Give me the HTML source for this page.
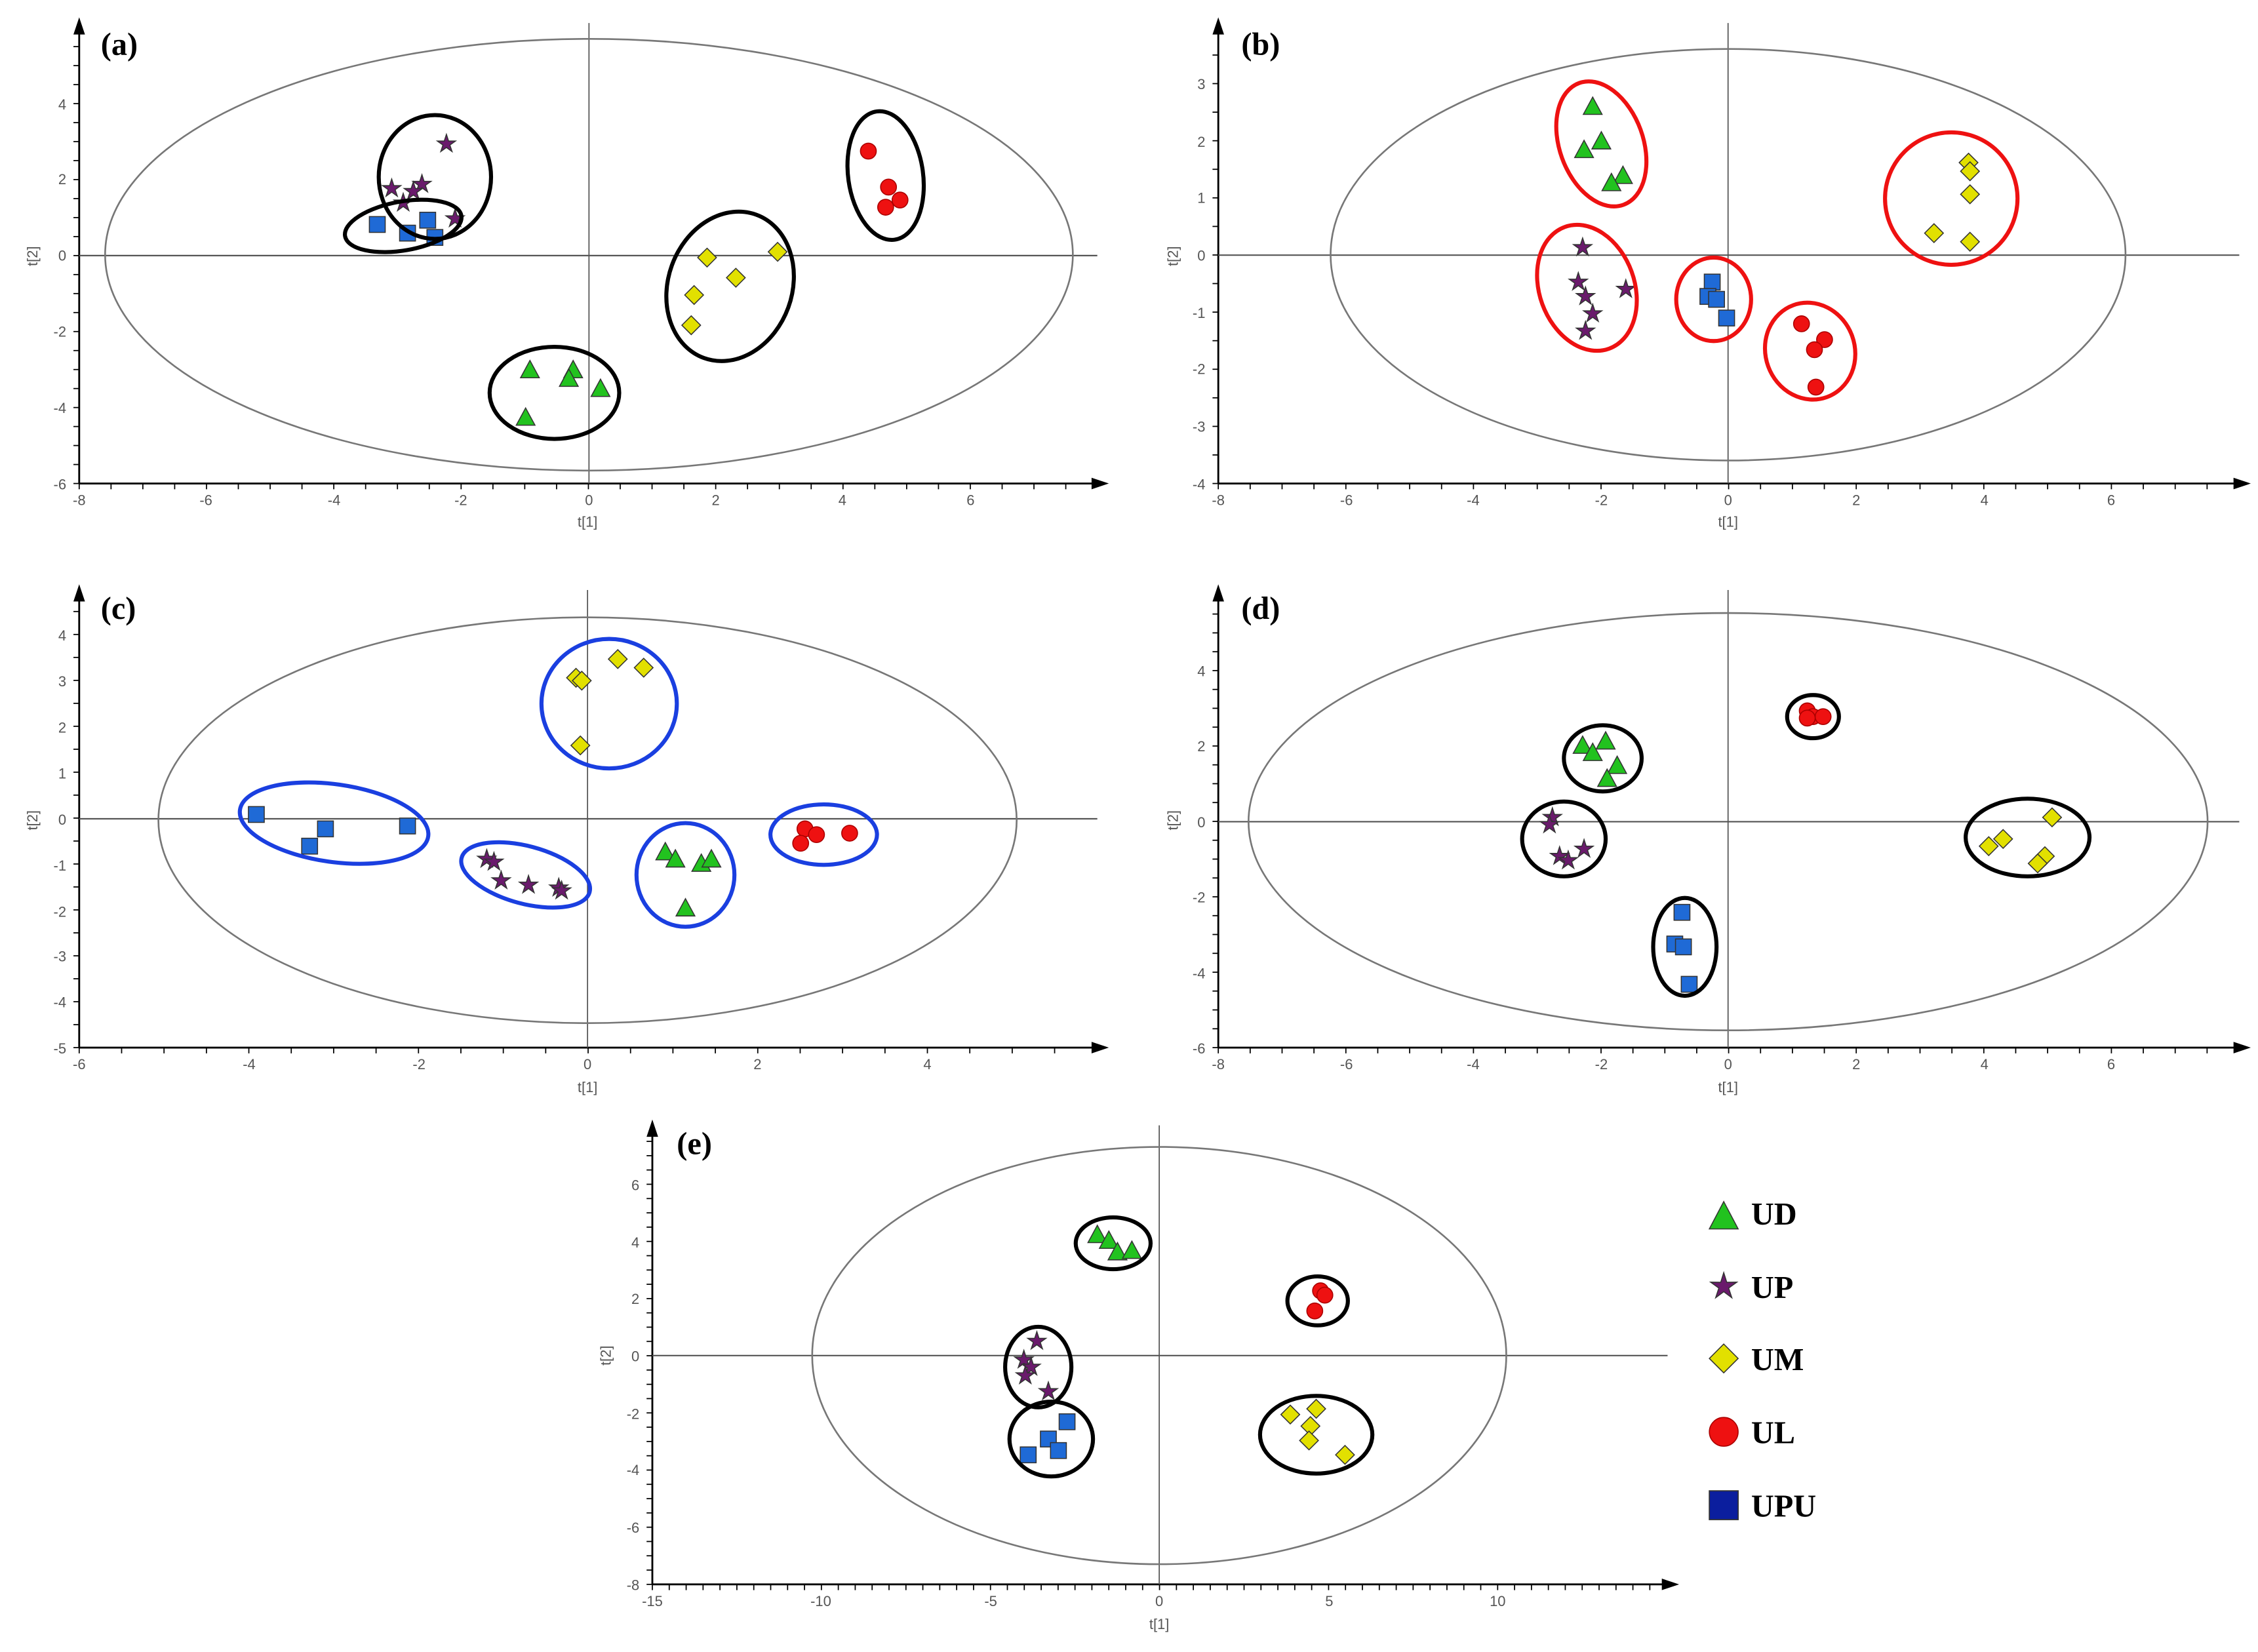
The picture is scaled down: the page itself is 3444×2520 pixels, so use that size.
<!DOCTYPE html>
<html><head><meta charset="utf-8"><style>
html,body{margin:0;padding:0;background:#fff}
svg{display:block}
.t{font-family:"Liberation Sans",sans-serif;font-size:10px;fill:#555}
.p{font-family:"Liberation Serif",serif;font-size:22px;font-weight:bold;fill:#000}
.lg{font-family:"Liberation Serif",serif;font-size:22px;font-weight:bold;fill:#000}
</style></head><body>
<svg id="s" width="3444" height="2520" viewBox="0 0 1568 1148" preserveAspectRatio="none" xmlns="http://www.w3.org/2000/svg">
<rect width="1568" height="1148" fill="#fff"/>
<g id="g"></g>
<!-- panel labels -->
<text class="p" x="70" y="38">(a)</text>
<text class="p" x="862" y="38">(b)</text>
<text class="p" x="70" y="430">(c)</text>
<text class="p" x="862" y="430">(d)</text>
<text class="p" x="470" y="802">(e)</text>
<!-- (a) ticks -->
<g class="t" text-anchor="middle">
<text x="55" y="351">-8</text><text x="143" y="351">-6</text><text x="232" y="351">-4</text><text x="320" y="351">-2</text><text x="409" y="351">0</text><text x="497" y="351">2</text><text x="585" y="351">4</text><text x="674" y="351">6</text>
<text x="408" y="366">t[1]</text>
<text x="846" y="351">-8</text><text x="935" y="351">-6</text><text x="1023" y="351">-4</text><text x="1112" y="351">-2</text><text x="1200" y="351">0</text><text x="1289" y="351">2</text><text x="1378" y="351">4</text><text x="1466" y="351">6</text>
<text x="1200" y="366">t[1]</text>
<text x="55" y="743">-6</text><text x="173" y="743">-4</text><text x="291" y="743">-2</text><text x="408" y="743">0</text><text x="526" y="743">2</text><text x="644" y="743">4</text>
<text x="408" y="759">t[1]</text>
<text x="846" y="743">-8</text><text x="935" y="743">-6</text><text x="1023" y="743">-4</text><text x="1112" y="743">-2</text><text x="1200" y="743">0</text><text x="1289" y="743">2</text><text x="1378" y="743">4</text><text x="1466" y="743">6</text>
<text x="1200" y="759">t[1]</text>
<text x="453" y="1116">-15</text><text x="570" y="1116">-10</text><text x="688" y="1116">-5</text><text x="805" y="1116">0</text><text x="923" y="1116">5</text><text x="1040" y="1116">10</text>
<text x="805" y="1132">t[1]</text>
</g>
<g class="t" text-anchor="end">
<text x="46" y="76">4</text><text x="46" y="128">2</text><text x="46" y="181">0</text><text x="46" y="234">-2</text><text x="46" y="287">-4</text><text x="46" y="340">-6</text>
<text x="837" y="62">3</text><text x="837" y="102">2</text><text x="837" y="141">1</text><text x="837" y="181">0</text><text x="837" y="221">-1</text><text x="837" y="260">-2</text><text x="837" y="300">-3</text><text x="837" y="340">-4</text>
<text x="46" y="445">4</text><text x="46" y="477">3</text><text x="46" y="509">2</text><text x="46" y="541">1</text><text x="46" y="573">0</text><text x="46" y="605">-1</text><text x="46" y="637">-2</text><text x="46" y="668">-3</text><text x="46" y="700">-4</text><text x="46" y="732">-5</text>
<text x="837" y="470">4</text><text x="837" y="522">2</text><text x="837" y="575">0</text><text x="837" y="627">-2</text><text x="837" y="680">-4</text><text x="837" y="732">-6</text>
<text x="444" y="827">6</text><text x="444" y="867">4</text><text x="444" y="906">2</text><text x="444" y="946">0</text><text x="444" y="986">-2</text><text x="444" y="1025">-4</text><text x="444" y="1065">-6</text><text x="444" y="1105">-8</text>
</g>
<g class="t" text-anchor="middle">
<text transform="translate(26,178) rotate(-90)">t[2]</text>
<text transform="translate(818,178) rotate(-90)">t[2]</text>
<text transform="translate(26,570) rotate(-90)">t[2]</text>
<text transform="translate(818,570) rotate(-90)">t[2]</text>
<text transform="translate(424,942) rotate(-90)">t[2]</text>
</g>
<!-- legend text -->
<text class="lg" x="1216" y="851">UD</text>
<text class="lg" x="1216" y="902">UP</text>
<text class="lg" x="1216" y="952">UM</text>
<text class="lg" x="1216" y="1003">UL</text>
<text class="lg" x="1216" y="1054">UPU</text>
</svg>
<script>
const g=document.getElementById('g');const NS='http://www.w3.org/2000/svg';
function el(t,a){const e=document.createElementNS(NS,t);for(const k in a)e.setAttribute(k,a[k]);g.appendChild(e);return e;}
function panel(o){
 // o: x0 (yaxis x), yb (xaxis y), xr (right end), yt (top), zx, zy (zero), xt:[ticks px], yt2:[ticks px], big ellipse
 el('line',{x1:o.x0,y1:o.yb,x2:o.xr,y2:o.yb,stroke:'#000','stroke-width':1.3});
 el('polygon',{points:`${o.xr+8},${o.yb} ${o.xr-4},${o.yb-4} ${o.xr-4},${o.yb+4}`,fill:'#000'});
 el('line',{x1:o.x0,y1:o.yb,x2:o.x0,y2:o.yt,stroke:'#000','stroke-width':1.3});
 el('polygon',{points:`${o.x0},${o.yt-8} ${o.x0-4},${o.yt+4} ${o.x0+4},${o.yt+4}`,fill:'#000'});
 for(let x=o.x0;x<=o.xr-4;x+=o.dx/2){el('line',{x1:x,y1:o.yb,x2:x,y2:o.yb+4,stroke:'#000','stroke-width':0.8});}
 for(let y=o.yb;y>=o.yt+4;y-=o.dy/2){el('line',{x1:o.x0-4,y1:y,x2:o.x0,y2:y,stroke:'#000','stroke-width':0.8});}
 el('line',{x1:o.x0,y1:o.zy,x2:o.xr,y2:o.zy,stroke:'#555','stroke-width':1});
 el('line',{x1:o.zx,y1:o.yt-4,x2:o.zx,y2:o.yb,stroke:'#555','stroke-width':0.8});
 el('ellipse',{cx:o.e[0],cy:o.e[1],rx:o.e[2],ry:o.e[3],fill:'none',stroke:'#777','stroke-width':1.2});
}
panel({x0:55,yb:336,xr:762,yt:20,zx:409,zy:177.6,dx:44.2,dy:26.4,e:[409,177,336,150]});
panel({x0:846,yb:336,xr:1555,yt:20,zx:1200,zy:177.3,dx:44.3,dy:39.7,e:[1200,177,276,143]});
panel({x0:55,yb:728,xr:762,yt:414,zx:408,zy:569,dx:58.9,dy:31.9,e:[408,570,298,141]});
panel({x0:846,yb:728,xr:1555,yt:414,zx:1200,zy:571,dx:44.3,dy:26.2,e:[1200,571,333,145]});
panel({x0:453,yb:1101,xr:1158,yt:786,zx:805,zy:942,dx:23.48,dy:19.86,e:[805,942,241,145]});
const C={t:'#22c21f',s:'#6a1a6c',d:'#e2e000',c:'#ee1111',q:'#1f6ad6'};
function mk(k,x,y,r){r=r||5.5;const st={stroke:k=='c'?'#a00':'#333','stroke-width':0.7,fill:C[k]};
 if(k=='c')el('circle',Object.assign({cx:x,cy:y,r:r},st));
 else if(k=='q')el('rect',Object.assign({x:x-r,y:y-r,width:2*r,height:2*r},st));
 else if(k=='d')el('polygon',Object.assign({points:`${x},${y-r-1} ${x+r+1},${y} ${x},${y+r+1} ${x-r-1},${y}`},st));
 else if(k=='t')el('polygon',Object.assign({points:`${x},${y-r-1} ${x+r+1},${y+r} ${x-r-1},${y+r}`},st));
 else {let p=[];for(let i=0;i<10;i++){const a=-Math.PI/2+i*Math.PI/5,rr=i%2?r*0.45:r*1.2;p.push((x+rr*Math.cos(a)).toFixed(1)+','+(y+rr*Math.sin(a)).toFixed(1));}el('polygon',Object.assign({points:p.join(' ')},st));}
}
function ring(cx,cy,rx,ry,rot,col){el('ellipse',{cx,cy,rx,ry,transform:`rotate(${rot||0} ${cx} ${cy})`,fill:'none',stroke:col||'#000','stroke-width':2.8});}
function pts(k,a){a.forEach(p=>mk(k,p[0],p[1]));}
// (a)
pts('s',[[310,100],[272,131],[293,128],[287,133],[280,141],[316,152]]);
pts('q',[[262,156],[283,162],[297,153],[302,165]]);
pts('c',[[603,105],[617,130],[625,139],[615,144]]);
pts('d',[[491,179],[540,175],[511,193],[482,205],[480,226]]);
pts('t',[[368,257],[398,257],[395,263],[417,270],[365,290]]);
ring(302,123,39,43,0);ring(280,157,41,17,-10);ring(615,122,26,45,-8);ring(507,199,43,53,20);ring(385,273,45,32,0);
// (b)
pts('t',[[1106,74],[1112,98],[1100,104],[1127,122],[1119,127]]);
pts('s',[[1099,172],[1096,196],[1101,206],[1106,218],[1101,230],[1129,201]]);
pts('q',[[1189,196],[1186,206],[1192,208],[1199,221]]);
pts('c',[[1251,225],[1267,236],[1260,243],[1261,269]]);
pts('d',[[1367,113],[1368,119],[1368,135],[1343,162],[1368,168]]);
const R='#ee1111';
ring(1112,100,29,45,-20,R);ring(1102,200,33,45,-20,R);ring(1190,208,26,29,0,R);ring(1257,244,31,34,-20,R);ring(1355,138,46,46,0,R);
// (c)
pts('q',[[178,566],[226,576],[215,588],[283,574]]);
pts('s',[[338,597],[343,599],[348,612],[367,615],[388,617],[390,619]]);
pts('t',[[462,592],[469,597],[487,600],[494,597],[476,631]]);
pts('c',[[559,576],[567,580],[556,586],[590,579]]);
pts('d',[[400,471],[404,473],[429,458],[447,464],[403,518]]);
const B='#1a3fe0';
ring(232,572,66,27,8,B);ring(365,608,46,20,15,B);ring(476,608,34,36,0,B);ring(572,580,37,21,0,B);ring(423,489,47,45,0,B);
// (d)
pts('t',[[1099,518],[1115,515],[1106,523],[1123,532],[1116,541]]);
pts('c',[[1255,494],[1259,498],[1266,498],[1255,499]]);
pts('s',[[1078,568],[1076,573],[1100,590],[1083,595],[1089,598]]);
pts('q',[[1168,634],[1163,656],[1169,658],[1173,684]]);
pts('d',[[1425,568],[1391,583],[1381,588],[1420,595],[1415,600]]);
ring(1113,527,27,23,0);ring(1259,498,18,15,0);ring(1086,583,29,26,0);ring(1170,658,22,34,0);ring(1408,582,43,27,0);
// (e)
pts('t',[[762,858],[770,862],[776,870],[786,869]]);
pts('c',[[917,897],[920,900],[913,911]]);
pts('s',[[720,932],[711,945],[716,950],[712,956],[728,967]]);
pts('q',[[741,988],[728,1000],[735,1008],[714,1011]]);
pts('d',[[896,983],[914,979],[910,991],[909,1001],[934,1011]]);
ring(773,864,26,18,0);ring(915,904,21,17,0);ring(721,950,23,28,0);ring(730,1000,29,26,0);ring(914,997,39,27,0);
// legend
mk('t',1197,845,9);mk('s',1197,894,8);mk('d',1197,944,9);mk('c',1197,995,10);
el('rect',{x:1187,y:1036,width:20,height:20,fill:'#0b1e9e',stroke:'#333','stroke-width':0.8});
</script>
</body></html>
